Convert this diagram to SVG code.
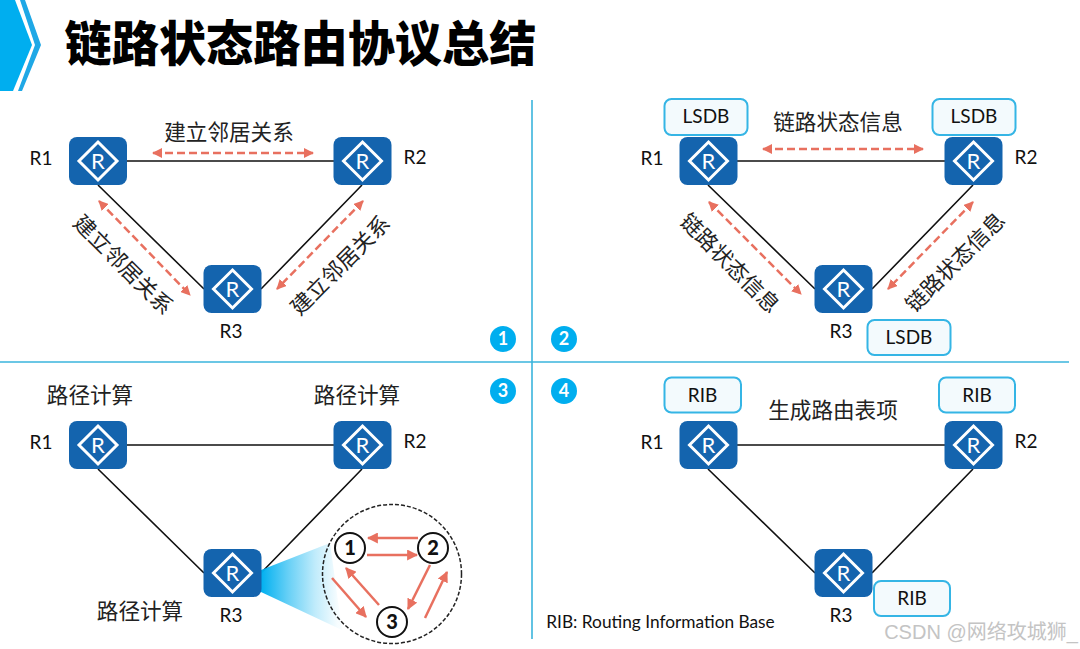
<svg xmlns="http://www.w3.org/2000/svg" xmlns:xlink="http://www.w3.org/1999/xlink" width="1080" height="649" viewBox="0 0 1080 649">
<style>
text{font-family:"Lato","Noto Sans CJK SC",sans-serif;fill:#111;text-anchor:middle}
.cjk{font-family:"Noto Sans CJK SC",sans-serif;font-size:21.6px;fill:#222}
.title{font-family:"Noto Sans CJK SC",sans-serif;font-size:47.2px;font-weight:900;fill:#000;text-anchor:start}
.rl{font-size:19px}
.box rect{fill:#f3fafd;stroke:#35b5e5;stroke-width:2}
.box text{font-size:19px}
.link{stroke:#111;stroke-width:1.6;fill:none}
.dash{stroke:#e8705f;stroke-width:2.5;stroke-dasharray:8 4;fill:none;marker-start:url(#ah);marker-end:url(#ah)}
.solid{stroke:#e8705f;stroke-width:2.5;fill:none;marker-end:url(#ah2)}
.sep{stroke:#3ab4dc;stroke-width:1.6;fill:none}
.badge circle{fill:#00aeef}
.badge text{fill:#fff;font-size:18px;font-weight:700}
.num circle{fill:#fff;stroke:#111;stroke-width:2}
.num text{font-size:20px;font-weight:900}
.rbg{fill:#1464ae}
.rd{fill:none;stroke:#fff;stroke-width:3}
.rt{fill:#fff;font-size:22px;font-weight:400}
</style>
<defs>
<marker id="ah" viewBox="0 0 10 10" refX="9" refY="5" markerWidth="4" markerHeight="4" orient="auto-start-reverse"><path d="M0 0L10 5L0 10z" fill="#e8705f"/></marker>
<marker id="ah2" viewBox="0 0 10 10" refX="9" refY="5" markerWidth="4.4" markerHeight="4.4" orient="auto"><path d="M0 0L10 5L0 10z" fill="#e8705f"/></marker>
<linearGradient id="beam" gradientUnits="userSpaceOnUse" x1="261" y1="0" x2="338" y2="0"><stop offset="0" stop-color="#00b0f0"/><stop offset="0.35" stop-color="#00b0f0" stop-opacity="0.6"/><stop offset="0.7" stop-color="#00b0f0" stop-opacity="0.25"/><stop offset="1" stop-color="#00b0f0" stop-opacity="0.03"/></linearGradient>
<g id="router"><rect class="rbg" x="-29" y="-24" width="58" height="48" rx="8"/><path class="rd" d="M0-19L19 0L0 19L-19 0z"/><text class="rt" x="0" y="8">R</text></g>
</defs>

<g id="header">
<path d="M0 0H15L32 45L13 91H0z" fill="#00aeef"/>
<path d="M25 0L41 45L22 91H18L35 45L20 0z" fill="#1fa8e6"/>
<text class="title" x="64.500" y="61">链路状态路由协议总结</text>
</g>

<g id="separators">
<path class="sep" d="M532 100V639"/>
<path class="sep" d="M0 362H1069"/>
</g>

<g id="connectors">
<path class="link" d="M127 161H334M98 185L204 289M362 185L261 289"/>
<path class="link" d="M737 161H945M708 185L815 289M973 185L872 289"/>
<path class="link" d="M127 445H334M98 469L204 573M362 469L261 573"/>
<path class="link" d="M737 445H945M708 469L815 573M973 469L872 573"/>
<path class="dash" d="M153 153H313"/>
<path class="dash" d="M99 201L190 295"/>
<path class="dash" d="M363 201L277 289"/>
<path class="dash" d="M763 149H923"/>
<path class="dash" d="M709 202L801 294"/>
<path class="dash" d="M973 202L888 289"/>
</g>

<g id="beam-fan"><path d="M261 570V592L342 630L330 543z" fill="url(#beam)"/></g>

<g id="node-p1-r1"><use href="#router" x="98" y="161"/><text class="rl" x="41" y="165">R1</text></g>
<g id="node-p1-r2"><use href="#router" x="362.500" y="161"/><text class="rl" x="415" y="164">R2</text></g>
<g id="node-p1-r3"><use href="#router" x="232.500" y="289"/><text class="rl" x="231" y="338">R3</text></g>
<g id="node-p2-r1"><use href="#router" x="708.500" y="161"/><text class="rl" x="652" y="165">R1</text></g>
<g id="node-p2-r2"><use href="#router" x="973.500" y="161"/><text class="rl" x="1026" y="164">R2</text></g>
<g id="node-p2-r3"><use href="#router" x="843.500" y="289"/><text class="rl" x="841" y="338">R3</text></g>
<g id="node-p3-r1"><use href="#router" x="98" y="445"/><text class="rl" x="41" y="449">R1</text></g>
<g id="node-p3-r2"><use href="#router" x="362.500" y="445"/><text class="rl" x="415" y="448">R2</text></g>
<g id="node-p3-r3"><use href="#router" x="232.500" y="573"/><text class="rl" x="231" y="622">R3</text></g>
<g id="node-p4-r1"><use href="#router" x="708.500" y="445"/><text class="rl" x="652" y="449">R1</text></g>
<g id="node-p4-r2"><use href="#router" x="973.500" y="445"/><text class="rl" x="1026" y="448">R2</text></g>
<g id="node-p4-r3"><use href="#router" x="843.500" y="573"/><text class="rl" x="841" y="622">R3</text></g>

<g id="lsdb-1" class="box"><rect x="664.500" y="99" width="83" height="36" rx="7"/><text x="706" y="123">LSDB</text></g>
<g id="lsdb-2" class="box"><rect x="932.500" y="99" width="83" height="36" rx="7"/><text x="974" y="123">LSDB</text></g>
<g id="lsdb-3" class="box"><rect x="867.500" y="320" width="83" height="35" rx="7"/><text x="909" y="344">LSDB</text></g>
<g id="rib-1" class="box"><rect x="664.500" y="377.500" width="76.500" height="35" rx="7"/><text x="702.500" y="402">RIB</text></g>
<g id="rib-2" class="box"><rect x="939" y="377.500" width="76" height="35" rx="7"/><text x="977" y="402">RIB</text></g>
<g id="rib-3" class="box"><rect x="874" y="581" width="76" height="35" rx="7"/><text x="912" y="605">RIB</text></g>

<g id="labels">
<text class="cjk" x="229" y="140">建立邻居关系</text>
<text class="cjk" transform="translate(123.500 264.500) rotate(45) translate(0 8)">建立邻居关系</text>
<text class="cjk" transform="translate(340 265) rotate(-45) translate(0 8)">建立邻居关系</text>
<text class="cjk" x="838" y="130">链路状态信息</text>
<text class="cjk" transform="translate(730 263) rotate(45) translate(0 8)">链路状态信息</text>
<text class="cjk" transform="translate(955 262) rotate(-45) translate(0 8)">链路状态信息</text>
<text class="cjk" x="90" y="403">路径计算</text>
<text class="cjk" x="357" y="403">路径计算</text>
<text class="cjk" x="140" y="619">路径计算</text>
<text class="cjk" x="833" y="418">生成路由表项</text>
<text x="660.500" y="628" style="font-size:17.300px">RIB: Routing Information Base</text>
</g>

<g id="badge-1" class="badge"><circle cx="503" cy="339" r="13"/><text x="503" y="345">1</text></g>
<g id="badge-2" class="badge"><circle cx="564" cy="339" r="13"/><text x="564" y="345">2</text></g>
<g id="badge-3" class="badge"><circle cx="503" cy="391" r="13"/><text x="503" y="397">3</text></g>
<g id="badge-4" class="badge"><circle cx="564" cy="391" r="13"/><text x="564" y="397">4</text></g>

<g id="spf-circle">
<circle cx="392" cy="574" r="69.500" fill="none" stroke="#222" stroke-width="1.500" stroke-dasharray="4 2"/>
<path class="solid" d="M418 538H368"/>
<path class="solid" d="M367 555H417"/>
<path class="solid" d="M379 605L346 568"/>
<path class="solid" d="M332 578L366 617"/>
<path class="solid" d="M430 565L408 609"/>
<path class="solid" d="M425 618L447 572"/>
</g>
<g id="spf-1" class="num"><circle cx="350" cy="548" r="15"/><text x="350" y="555">1</text></g>
<g id="spf-2" class="num"><circle cx="433" cy="548" r="15"/><text x="433" y="555">2</text></g>
<g id="spf-3" class="num"><circle cx="392" cy="622" r="15"/><text x="392" y="629">3</text></g>

<text id="watermark" x="981" y="639" style="font-family:'Liberation Sans','Noto Sans CJK SC',sans-serif;font-size:20px;fill:#c4c4c4">CSDN @网络攻城狮_</text>
</svg>
